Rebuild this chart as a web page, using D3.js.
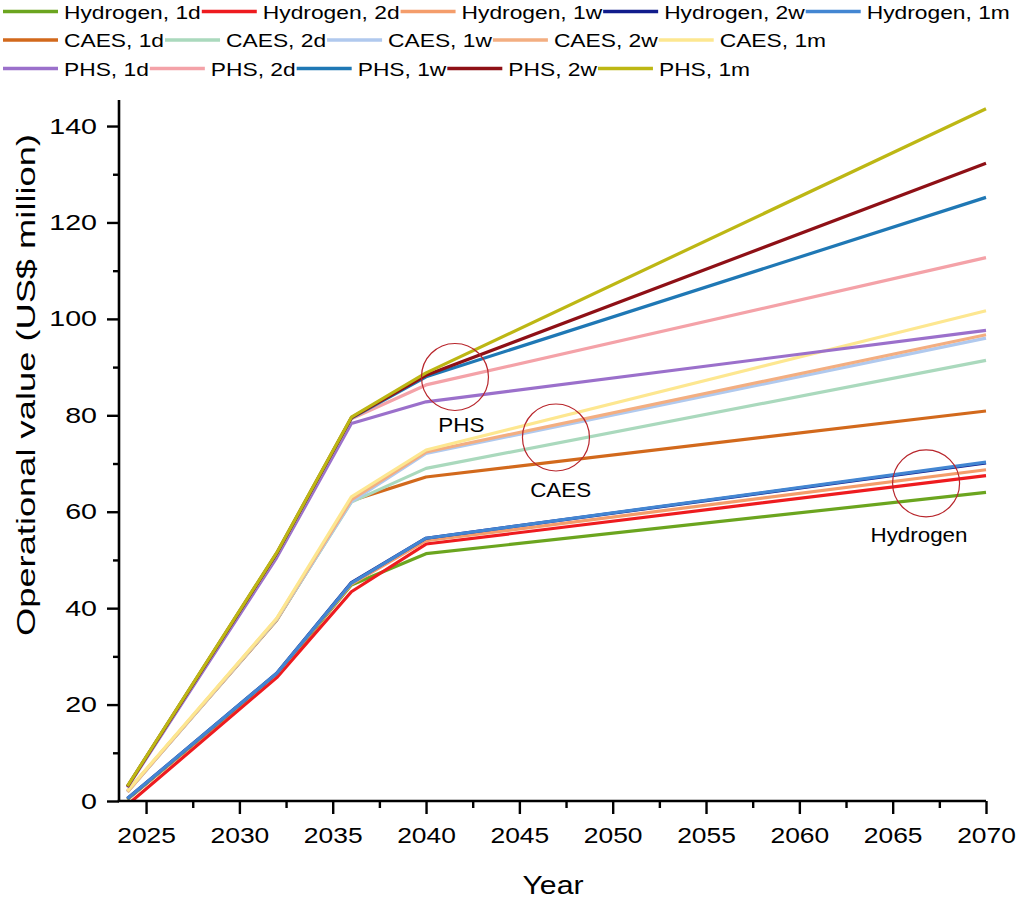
<!DOCTYPE html>
<html>
<head>
<meta charset="utf-8">
<script src="https://cdn.jsdelivr.net/npm/d3@7"></script>
<style>
  html, body { margin: 0; padding: 0; background: #fff; }
  svg { display: block; font-family: "Liberation Sans", Arial, sans-serif; }
</style>
</head>
<body>
<svg id="chart" width="1016" height="903"></svg>
<script>
// ---- data: operational value (US$ million) by year ----
const years = [2024, 2032, 2036, 2040, 2070];

const hydrogen1d = [0.3, 26.2, 44.8, 51.3, 64.0];
const hydrogen2d = [-0.8, 25.6, 43.4, 53.3, 67.5];
const hydrogen1w = [0.4, 26.4, 45.0, 54.0, 68.7];
const hydrogen2w = [0.5, 26.5, 45.3, 54.5, 70.1];
const hydrogen1m = [0.5, 26.5, 45.2, 54.5, 70.3];

const caes1d = [2.0, 37.5, 62.3, 67.2, 80.9];
const caes2d = [1.9, 37.6, 62.0, 69.0, 91.4];
const caes1w = [1.9, 37.7, 62.1, 72.1, 96.0];
const caes2w = [1.9, 37.8, 62.5, 72.4, 96.7];
const caes1m = [2.1, 37.9, 63.1, 72.8, 101.7];

const phs1d = [2.8, 50.5, 78.3, 82.8, 97.6];
const phs2d = [3.0, 51.2, 79.3, 86.3, 112.7];
const phs1w = [3.0, 51.3, 79.4, 88.0, 125.2];
const phs2w = [3.0, 51.4, 79.5, 88.3, 132.3];
const phs1m = [3.1, 51.5, 79.6, 88.8, 143.6];

const seriesLabels = [
  "Hydrogen, 1d", "Hydrogen, 2d", "Hydrogen, 1w", "Hydrogen, 2w", "Hydrogen, 1m",
  "CAES, 1d", "CAES, 2d", "CAES, 1w", "CAES, 2w", "CAES, 1m",
  "PHS, 1d", "PHS, 2d", "PHS, 1w", "PHS, 2w", "PHS, 1m"
];
const seriesValues = [
  hydrogen1d, hydrogen2d, hydrogen1w, hydrogen2w, hydrogen1m,
  caes1d, caes2d, caes1w, caes2w, caes1m,
  phs1d, phs2d, phs1w, phs2w, phs1m
];
const seriesColors = [
  "#6ba51f", "#ee1b1f", "#f49d6b", "#111c8c", "#4386d2",
  "#d2691c", "#aad9bd", "#b0c9ee", "#f3ae81", "#fde790",
  "#9b70cb", "#f4a2a8", "#1f78b5", "#8e1016", "#bdb714"
];
const legendRows = [[0, 1, 2, 3, 4], [5, 6, 7, 8, 9], [10, 11, 12, 13, 14]];

// axis ticks
const yTickValues = [0, 20, 40, 60, 80, 100, 120, 140];
const yMinorValues = [10, 30, 50, 70, 90, 110, 130];
const xTickValues = [2025, 2030, 2035, 2040, 2045, 2050, 2055, 2060, 2065, 2070];
const xMinorValues = [2027.5, 2032.5, 2037.5, 2042.5, 2047.5, 2052.5, 2057.5, 2062.5, 2067.5];

// group callouts (circle centre and label anchor, in data units)
const calloutLabels = ["PHS", "CAES", "Hydrogen"];
const calloutCircleYears = [2041.55, 2046.96, 2066.79];
const calloutCircleValues = [87.95, 75.4, 65.9];
const calloutTextYears = [2041.89, 2047.21, 2066.41];
const calloutTextValues = [76.6, 63.1, 53.7];

// ---- layout ----
const svg = d3.select("#chart");
const plot = { left: 119, right: 986, top: 100, bottom: 801 };

const x = d3.scaleLinear().domain([2023.55, 2070]).range([plot.left, plot.right]);
const y = d3.scaleLinear().domain([0, 145.4]).range([plot.bottom, plot.top]);

svg.append("rect").attr("width", 1016).attr("height", 903).attr("fill", "#fff");

svg.append("defs").append("clipPath").attr("id", "plot-clip")
  .append("rect")
  .attr("x", plot.left).attr("y", plot.top)
  .attr("width", plot.right - plot.left + 4)
  .attr("height", plot.bottom - plot.top);

// ---- series lines ----
const line = d3.line()
  .x((d, i) => x(years[i]))
  .y(d => y(d));

const linesG = svg.append("g").attr("clip-path", "url(#plot-clip)");
seriesValues.forEach((vals, k) => {
  linesG.append("path")
    .datum(vals)
    .attr("d", line)
    .attr("fill", "none")
    .attr("stroke", seriesColors[k])
    .attr("stroke-width", 3.2)
    .attr("stroke-linejoin", "round");
});

// ---- axes ----
const tickStroke = 2.4;
const yStretch = 1.3;
const xStretch = 1.2;

const yAxisG = svg.append("g").attr("transform", `translate(${plot.left},0)`)
  .call(d3.axisLeft(y).tickValues(yTickValues).tickSize(12).tickPadding(10).tickSizeOuter(0));
yAxisG.append("g")
  .call(d3.axisLeft(y).tickValues(yMinorValues).tickSize(6).tickFormat("").tickSizeOuter(0))
  .select(".domain").remove();
yAxisG.selectAll("text")
  .attr("font-size", 22)
  .attr("font-family", '"Liberation Sans", Arial, sans-serif')
  .attr("fill", "#000")
  .attr("x", -22 / yStretch)
  .attr("transform", `scale(${yStretch},1)`);

const xAxisG = svg.append("g").attr("transform", `translate(0,${plot.bottom})`)
  .call(d3.axisBottom(x).tickValues(xTickValues).tickFormat(d3.format("d"))
    .tickSize(13).tickPadding(13).tickSizeOuter(0));
xAxisG.append("g")
  .call(d3.axisBottom(x).tickValues(xMinorValues).tickSize(7).tickFormat("").tickSizeOuter(0))
  .select(".domain").remove();
xAxisG.selectAll("text")
  .attr("font-size", 22)
  .attr("font-family", '"Liberation Sans", Arial, sans-serif')
  .attr("fill", "#000")
  .attr("transform", `scale(${xStretch},1)`);

[yAxisG, xAxisG].forEach(g => {
  g.selectAll("line").attr("stroke", "#000").attr("stroke-width", tickStroke);
  g.selectAll(".domain").attr("stroke", "#000").attr("stroke-width", 2.6);
});
// extend the x axis line under the y axis line so the corner is closed
xAxisG.select(".domain").attr("d", `M${plot.left - 1.3},0H${plot.right}`);
yAxisG.select(".domain").attr("d", `M0,${plot.bottom}V${plot.top}`);

// axis titles
svg.append("text")
  .attr("x", 553).attr("y", 894)
  .attr("text-anchor", "middle")
  .attr("font-size", 25)
  .attr("textLength", 61).attr("lengthAdjust", "spacingAndGlyphs")
  .text("Year");

svg.append("text")
  .attr("transform", "translate(35,385) rotate(-90)")
  .attr("text-anchor", "middle")
  .attr("font-size", 25)
  .attr("textLength", 502).attr("lengthAdjust", "spacingAndGlyphs")
  .text("Operational value (US$ million)");

// ---- callouts ----
calloutLabels.forEach((lab, i) => {
  svg.append("circle")
    .attr("cx", x(calloutCircleYears[i]))
    .attr("cy", y(calloutCircleValues[i]))
    .attr("r", 33.5)
    .attr("fill", "none")
    .attr("stroke", "#b8262c")
    .attr("stroke-width", 1.2);
  svg.append("text")
    .attr("transform", `translate(${x(calloutTextYears[i])},${y(calloutTextValues[i])}) scale(1.12,1)`)
    .attr("text-anchor", "middle")
    .attr("font-size", 20)
    .attr("fill", "#000")
    .text(lab);
});

// ---- legend ----
const legendStretch = 1.2;
const legendG = svg.append("g");
const rowBaselines = [18.5, 47, 75.5];
legendRows.forEach((row, r) => {
  let cx = 3;
  const base = rowBaselines[r];
  row.forEach(k => {
    legendG.append("line")
      .attr("x1", cx).attr("x2", cx + 55)
      .attr("y1", base - 7).attr("y2", base - 7)
      .attr("stroke", seriesColors[k])
      .attr("stroke-width", 3.5);
    const tx = cx + 61;
    const t = legendG.append("text")
      .attr("transform", `translate(${tx},${base}) scale(${legendStretch},1)`)
      .attr("font-size", 19)
      .attr("fill", "#000")
      .text(seriesLabels[k]);
    const w = t.node().getComputedTextLength() * legendStretch;
    cx = tx + w + 1;
  });
});
</script>
</body>
</html>
